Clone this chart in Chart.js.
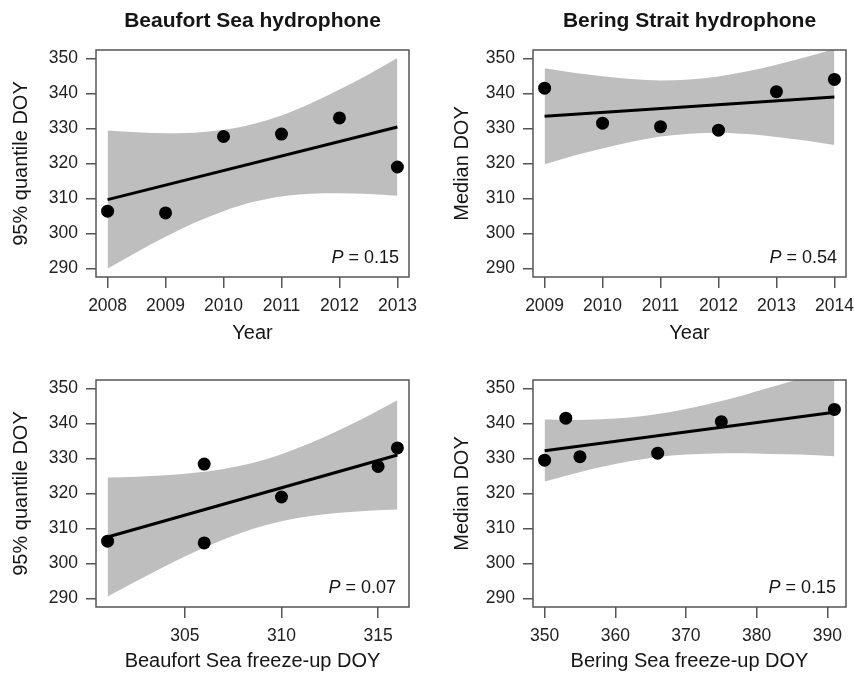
<!DOCTYPE html>
<html>
<head>
<meta charset="utf-8">
<title>Freeze-up timing</title>
<style>
  body { margin: 0; background: #fff; }
  #wrap { position: relative; width: 854px; height: 674px; }
  #wrap canvas { position: absolute; }
</style>
</head>
<body>
<div id="wrap">
  <canvas id="beaufortYear" width="427" height="345" style="left:0;top:0"></canvas>
  <canvas id="beringYear" width="427" height="345" style="left:427px;top:0"></canvas>
  <canvas id="beaufortIce" width="427" height="329" style="left:0;top:345px"></canvas>
  <canvas id="beringIce" width="427" height="329" style="left:427px;top:345px"></canvas>
</div>
<script src="https://cdn.jsdelivr.net/npm/chart.js@4/dist/chart.umd.min.js"></script>
<script>
// observed values
var beaufortYears = [2008, 2009, 2010, 2011, 2012, 2013];
var beaufortQ95 = [306.4, 305.9, 327.7, 328.4, 333.0, 319.0];
var beaufortFreezeUp = [301, 306, 315, 306, 316, 310];

var beringYears = [2009, 2010, 2011, 2012, 2013, 2014];
var beringMedian = [341.5, 331.5, 330.5, 329.5, 340.5, 344.0];
var beringFreezeUp = [353, 366, 355, 350, 375, 391];

// fitted lines (end points) and 95% bands
var fitX1 = [2008, 2013], fitY1 = [309.7, 330.4];
var bandX1 = [2008, 2008.5, 2009, 2009.5, 2010, 2010.5, 2011, 2011.5, 2012, 2012.5, 2013];
var bandLow1 = [290.0, 294.7, 299.1, 303.1, 306.4, 309.0, 310.6, 311.4, 311.5, 311.3, 310.8];
var bandHigh1 = [329.4, 328.9, 328.6, 328.8, 329.6, 331.2, 333.7, 337.1, 341.1, 345.4, 350.1];

var fitX2 = [2009, 2014], fitY2 = [333.5, 339.0];
var bandX2 = [2009, 2009.5, 2010, 2010.5, 2011, 2011.5, 2012, 2012.5, 2013, 2013.5, 2014];
var bandLow2 = [319.8, 322.2, 324.3, 326.2, 327.7, 328.5, 328.8, 328.4, 327.6, 326.6, 325.3];
var bandHigh2 = [347.2, 345.9, 344.9, 344.1, 343.7, 344.0, 344.8, 346.3, 348.2, 350.3, 352.7];

var fitX3 = [301, 316], fitY3 = [307.6, 331.0];
var bandX3 = [301, 302.5, 304, 305.5, 307, 308.5, 310, 311.5, 313, 314.5, 316];
var bandLow3 = [290.6, 295.0, 299.3, 303.3, 306.9, 309.9, 312.1, 313.6, 314.5, 315.1, 315.4];
var bandHigh3 = [324.6, 324.8, 325.2, 325.9, 327.0, 328.7, 331.2, 334.4, 338.1, 342.2, 346.6];

var fitX4 = [350, 391], fitY4 = [332.2, 343.2];
var bandX4 = [350, 354, 358, 362, 366, 370, 374, 378, 382, 386, 391];
var bandLow4 = [323.4, 325.6, 327.6, 329.2, 330.4, 331.1, 331.4, 331.5, 331.3, 331.1, 330.6];
var bandHigh4 = [341.1, 341.0, 341.2, 341.7, 342.7, 344.1, 345.9, 348.0, 350.3, 352.7, 355.9];

var pValues = ["0.15", "0.54", "0.07", "0.15"];

// tick labels
var yTicks = [290, 300, 310, 320, 330, 340, 350];
var yearTicks1 = [2008, 2009, 2010, 2011, 2012, 2013];
var yearTicks2 = [2009, 2010, 2011, 2012, 2013, 2014];
var beaufortIceTicks = [305, 310, 315];
var beringIceTicks = [350, 360, 370, 380, 390];

var FONT = '"Liberation Sans", Arial, Helvetica, sans-serif';
var INK = '#151515';
var AXIS = '#555';
var BAND = '#bebebe';

function xy(xs, ys) {
  return xs.map(function (x, i) { return { x: x, y: ys[i] }; });
}

var panelDecor = {
  id: 'panelDecor',
  afterDatasetsDraw: function (chart, args, opts) {
    var ctx = chart.ctx, a = chart.chartArea;
    ctx.save();
    ctx.strokeStyle = AXIS;
    ctx.lineWidth = 1.5;
    ctx.strokeRect(a.left, a.top, a.right - a.left, a.bottom - a.top);
    ctx.fillStyle = INK;
    ctx.textBaseline = 'alphabetic';
    if (opts.title) {
      ctx.font = 'bold 21px ' + FONT;
      ctx.textAlign = 'center';
      ctx.fillText(opts.title, (a.left + a.right) / 2, 27);
    }
    var rest = ' = ' + opts.p;
    var x = a.right - opts.pRight, y = a.bottom - 14;
    ctx.font = '18px ' + FONT;
    var w = ctx.measureText(rest).width;
    ctx.textAlign = 'right';
    ctx.fillText(rest, x, y);
    ctx.font = 'italic 18px ' + FONT;
    ctx.fillText('P', x - w, y);
    ctx.restore();
  }
};

function makePanel(id, p) {
  var ctx = document.getElementById(id).getContext('2d');
  var h = ctx.canvas.height, wdt = ctx.canvas.width;
  return new Chart(ctx, {
    type: 'scatter',
    data: {
      datasets: [
        { type: 'line', data: xy(p.bandX, p.bandLow), borderWidth: 0, pointRadius: 0,
          fill: false, cubicInterpolationMode: 'monotone', order: 3 },
        { type: 'line', data: xy(p.bandX, p.bandHigh), borderWidth: 0, pointRadius: 0,
          fill: '-1', backgroundColor: BAND, cubicInterpolationMode: 'monotone', order: 2 },
        { type: 'line', data: xy(p.fitX, p.fitY), borderColor: '#000', borderWidth: 3,
          pointRadius: 0, fill: false, order: 1 },
        { data: xy(p.xs, p.ys), backgroundColor: '#000', borderWidth: 0,
          pointRadius: 6.5, order: 0 }
      ]
    },
    options: {
      responsive: false,
      animation: false,
      events: [],
      layout: {
        autoPadding: false,
        padding: { left: 0, top: p.top, right: wdt - p.right, bottom: 0 }
      },
      scales: {
        x: {
          type: 'linear',
          min: p.xMin, max: p.xMax,
          afterBuildTicks: function (s) { s.ticks = p.xTicks.map(function (v) { return { value: v }; }); },
          afterFit: function (s) { s.height = h - p.bottom; s.paddingLeft = 0; s.paddingRight = 0; },
          grid: { drawOnChartArea: false, drawTicks: true, tickLength: 11, color: AXIS, lineWidth: 1.5 },
          border: { display: false },
          ticks: { padding: 8, color: '#222', font: { family: FONT, size: 17.5 },
                   maxRotation: 0, autoSkip: false, callback: function (v) { return String(v); } },
          title: { display: true, text: p.xTitle, color: INK, font: { family: FONT, size: 20 },
                   padding: { top: 0, bottom: p.xTitlePad } }
        },
        y: {
          min: 287.6, max: 352.4,
          afterBuildTicks: function (s) { s.ticks = yTicks.map(function (v) { return { value: v }; }); },
          afterFit: function (s) { s.width = p.left; s.paddingTop = 0; s.paddingBottom = 0; },
          grid: { drawOnChartArea: false, drawTicks: true, tickLength: 10, color: AXIS, lineWidth: 1.5 },
          border: { display: false },
          ticks: { padding: 8, color: '#222', font: { family: FONT, size: 17.5 },
                   autoSkip: false, callback: function (v) { return String(v); } },
          title: { display: true, text: p.yTitle, color: INK, font: { family: FONT, size: 20 },
                   padding: { top: p.yTitlePad, bottom: 0 } }
        }
      },
      plugins: {
        legend: { display: false },
        tooltip: { enabled: false },
        panelDecor: { title: p.title, p: p.pValue, pRight: p.pRight }
      }
    },
    plugins: [panelDecor]
  });
}

makePanel('beaufortYear', {
  xs: beaufortYears, ys: beaufortQ95, fitX: fitX1, fitY: fitY1,
  bandX: bandX1, bandLow: bandLow1, bandHigh: bandHigh1,
  xMin: 2007.8, xMax: 2013.2, xTicks: yearTicks1,
  xTitle: 'Year', yTitle: '95% quantile DOY', title: 'Beaufort Sea hydrophone',
  pValue: pValues[0], pRight: 10,
  left: 96, right: 409, top: 50, bottom: 277, xTitlePad: 0, yTitlePad: 9
});

makePanel('beringYear', {
  xs: beringYears, ys: beringMedian, fitX: fitX2, fitY: fitY2,
  bandX: bandX2, bandLow: bandLow2, bandHigh: bandHigh2,
  xMin: 2008.8, xMax: 2014.2, xTicks: yearTicks2,
  xTitle: 'Year', yTitle: 'Median DOY', title: 'Bering Strait hydrophone',
  pValue: pValues[1], pRight: 9,
  left: 106, right: 419, top: 50, bottom: 277, xTitlePad: 0, yTitlePad: 23.5
});

makePanel('beaufortIce', {
  xs: beaufortFreezeUp, ys: beaufortQ95, fitX: fitX3, fitY: fitY3,
  bandX: bandX3, bandLow: bandLow3, bandHigh: bandHigh3,
  xMin: 300.4, xMax: 316.6, xTicks: beaufortIceTicks,
  xTitle: 'Beaufort Sea freeze-up DOY', yTitle: '95% quantile DOY', title: null,
  pValue: pValues[2], pRight: 13,
  left: 96, right: 409, top: 35, bottom: 262, xTitlePad: 1, yTitlePad: 9
});

makePanel('beringIce', {
  xs: beringFreezeUp, ys: beringMedian, fitX: fitX4, fitY: fitY4,
  bandX: bandX4, bandLow: bandLow4, bandHigh: bandHigh4,
  xMin: 348.36, xMax: 392.64, xTicks: beringIceTicks,
  xTitle: 'Bering Sea freeze-up DOY', yTitle: 'Median DOY', title: null,
  pValue: pValues[3], pRight: 10,
  left: 106, right: 419, top: 35, bottom: 262, xTitlePad: 1, yTitlePad: 23.5
});
</script>
</body>
</html>
